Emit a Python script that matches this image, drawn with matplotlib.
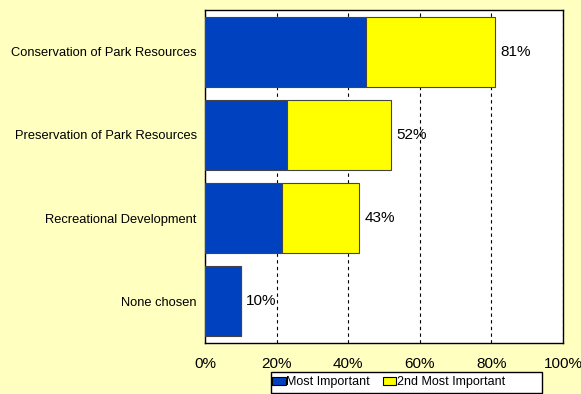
import matplotlib.pyplot as plt
from matplotlib.patches import Rectangle
import numpy as np

plt.rcParams['font.family'] = ['Liberation Sans', 'DejaVu Sans']

# Priorita' del parco: percentuali per prima e seconda scelta
categories = ["Conservation of Park Resources",
              "Preservation of Park Resources",
              "Recreational Development",
              "None chosen"]
most_important = [45, 23, 21.5, 10]
second_important = [36, 29, 21.5, 0]
totals = [81, 52, 43, 10]

bg = "#FFFFC0"
blue = "#0041BF"
yellow = "#FFFF00"
W, H = 581, 394

fig = plt.figure(figsize=(W / 100, H / 100), dpi=100, facecolor=bg)
ax = fig.add_axes([205 / W, 1 - 343 / H, 358 / W, 333 / H])
ax.set_facecolor("white")

y = np.arange(len(categories))
h = 0.84
ax.barh(y, most_important, height=h, color=blue, edgecolor="#444444",
        linewidth=0.8, label="Most Important", zorder=3)
ax.barh(y, second_important, height=h, left=most_important, color=yellow,
        edgecolor="#444444", linewidth=0.8, label="2nd Most Important", zorder=3)

# Etichette con il totale a destra di ogni barra
for yi, tot in zip(y, totals):
    ax.text(tot + 1.5, yi, f"{tot}%", va="center", ha="left", fontsize=11, zorder=4)

ax.set_xlim(0, 100)
ax.set_ylim(len(categories) - 0.5, -0.5)
ax.set_xticks(np.arange(0, 101, 20))
ax.set_xticklabels([f"{v}%" for v in range(0, 101, 20)], fontsize=11)
ax.set_yticks(y)
ax.set_yticklabels(categories, fontsize=9.3)
ax.tick_params(axis="both", length=0)
ax.tick_params(axis="x", pad=10)
ax.tick_params(axis="y", pad=6)

ax.xaxis.grid(True, linestyle=(0, (3, 3)), color="black", linewidth=0.8, zorder=0)
ax.set_axisbelow(True)
for s in ax.spines.values():
    s.set_color("black")
    s.set_linewidth(1.0)

# Legenda con riquadro piu' largo del contenuto
fig.patches.append(Rectangle((271 / W, 1 - 393 / H), 271 / W, 21 / H,
                             transform=fig.transFigure, facecolor="white",
                             edgecolor="black", linewidth=1.0, zorder=5))
leg = fig.legend(loc="center left", bbox_to_anchor=(272 / W, 1 - 382.5 / H), ncol=2,
                 fontsize=9, frameon=False,
                 handlelength=1.1, handleheight=0.6, handletextpad=0.05,
                 columnspacing=1.0, borderpad=0.0, borderaxespad=0)
leg.set_zorder(6)
for p in leg.get_patches():
    p.set_edgecolor("black")
    p.set_linewidth(0.8)

fig.savefig("out.png", dpi=100, facecolor=bg)
